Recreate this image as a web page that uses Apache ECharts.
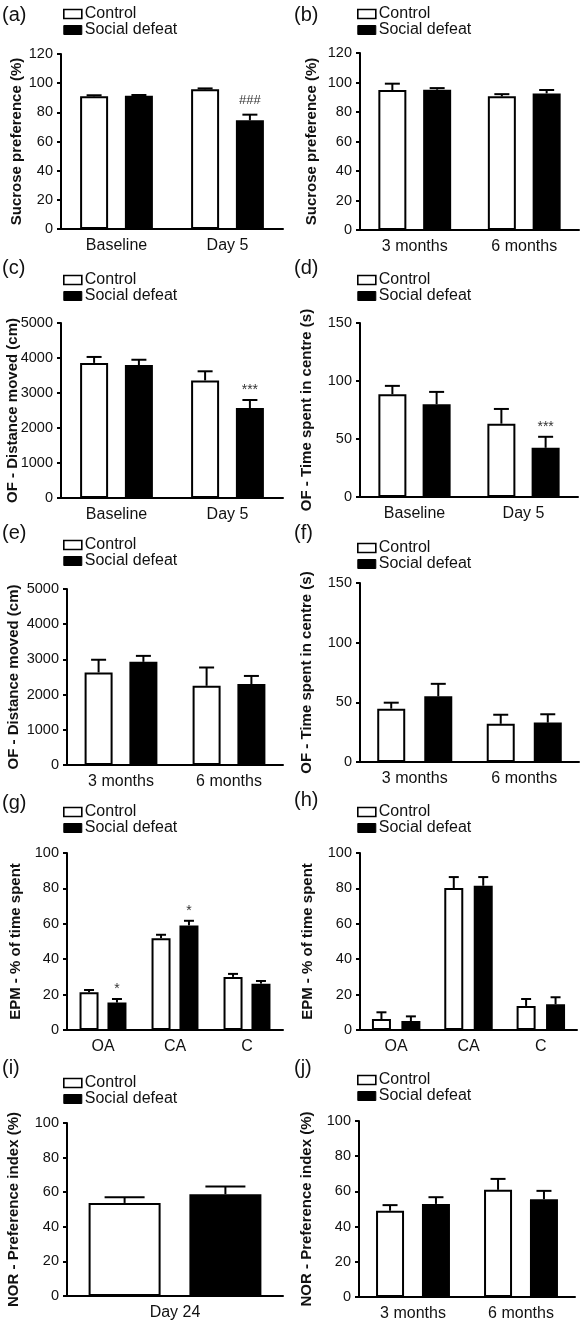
<!DOCTYPE html>
<html>
<head>
<meta charset="utf-8">
<script src="https://cdn.jsdelivr.net/npm/echarts@6/dist/echarts.min.js"></script>
<style>html,body{margin:0;padding:0;background:#fff}#c{width:583px;height:1324px}</style>
</head>
<body>
<div id="c"></div>
<script>
// ---------- data ----------
const seriesNames = ['Control', 'Social defeat'];
const catsBD = ['Baseline', 'Day 5'];
const catsMonths = ['3 months', '6 months'];
const catsEPM = ['OA', 'CA', 'C'];
const catsDay24 = ['Day 24'];

const aCtrl = [91.0, 95.8], aCtrlErr = [0.7, 0.6], aSD = [91.4, 74.5], aSDErr = [0.5, 3.9], aSig = ['', '###'];
const bCtrl = [94.9, 90.6], bCtrlErr = [4.3, 1.5], bSD = [95.1, 92.6], bSDErr = [1.1, 2.3], bSig = ['', ''];
const cCtrl = [3860, 3360], cCtrlErr = [170, 260], cSD = [3800, 2570], cSDErr = [150, 230], cSig = ['', '***'];
const dCtrl = [88.6, 63.2], dCtrlErr = [7.2, 12.7], dSD = [79.9, 42.4], dSDErr = [10.7, 9.5], dSig = ['', '***'];
const eCtrl = [2630, 2250], eCtrlErr = [360, 520], eSD = [2930, 2300], eSDErr = [170, 230], eSig = ['', ''];
const fCtrl = [44.7, 32.0], fCtrlErr = [5.0, 7.6], fSD = [55.0, 33.0], fSDErr = [10.5, 7.0], fSig = ['', ''];
const gCtrl = [21.3, 51.9, 30.0], gCtrlErr = [1.3, 1.9, 1.7], gSD = [15.5, 59.1, 26.2], gSDErr = [2.0, 2.6, 1.5], gSig = ['*', '*', ''];
const hCtrl = [6.2, 80.2, 13.6], hCtrlErr = [3.8, 6.2, 3.9], hSD = [5.1, 81.5, 14.5], hSDErr = [2.6, 4.9, 4.0], hSig = ['', '', ''];
const iCtrl = [53.8], iCtrlErr = [3.3], iSD = [58.8], iSDErr = [4.5], iSig = [''];
const jCtrl = [49.0, 60.9], jCtrlErr = [3.2, 6.2], jSD = [52.9, 55.6], jSDErr = [3.8, 4.7], jSig = ['', ''];

const yTitles = {
  sucrose: 'Sucrose preference (%)',
  dist: 'OF - Distance moved (cm)',
  time: 'OF - Time spent in centre (s)',
  epm: 'EPM - % of time spent',
  nor: 'NOR - Preference index (%)'
};
const panelLetters = ['(a)', '(b)', '(c)', '(d)', '(e)', '(f)', '(g)', '(h)', '(i)', '(j)'];

// ---------- layout (positions / styles) ----------
const FONT = 'Liberation Sans, Arial, sans-serif';
const panels = [
  {cats: catsBD, ctrl: aCtrl, ce: aCtrlErr, sd: aSD, se: aSDErr, sig: aSig, title: yTitles.sucrose, max: 120, step: 20,
   g: {left: 61, top: 54, width: 222, height: 175}, bw: 28, gap: 0.6, lg: [63, 6], lt: 5, ng: 37},
  {cats: catsMonths, ctrl: bCtrl, ce: bCtrlErr, sd: bSD, se: bSDErr, sig: bSig, title: yTitles.sucrose, max: 120, step: 20,
   g: {left: 360, top: 53, width: 219, height: 177}, bw: 28, gap: 0.6, lg: [357, 6], lt: 5, ng: 41},
  {cats: catsBD, ctrl: cCtrl, ce: cCtrlErr, sd: cSD, se: cSDErr, sig: cSig, title: yTitles.dist, max: 5000, step: 1000,
   g: {left: 61, top: 323, width: 222, height: 175}, bw: 28, gap: 0.6, lg: [63, 272], lt: 258, ng: 41},
  {cats: catsBD, ctrl: dCtrl, ce: dCtrlErr, sd: dSD, se: dSDErr, sig: dSig, title: yTitles.time, max: 150, step: 50,
   g: {left: 360, top: 323, width: 218, height: 174}, bw: 28, gap: 0.58, lg: [357, 272], lt: 258, ng: 46},
  {cats: catsMonths, ctrl: eCtrl, ce: eCtrlErr, sd: eSD, se: eSDErr, sig: eSig, title: yTitles.dist, max: 5000, step: 1000,
   g: {left: 67, top: 589, width: 216, height: 176}, bw: 28, gap: 0.6, lg: [63, 537], lt: 523, ng: 46},
  {cats: catsMonths, ctrl: fCtrl, ce: fCtrlErr, sd: fSD, se: fSDErr, sig: fSig, title: yTitles.time, max: 150, step: 50,
   g: {left: 360, top: 583, width: 219, height: 179}, bw: 28, gap: 0.68, lg: [357, 540], lt: 523, ng: 46},
  {cats: catsEPM, ctrl: gCtrl, ce: gCtrlErr, sd: gSD, se: gSDErr, sig: gSig, title: yTitles.epm, max: 100, step: 20,
   g: {left: 67, top: 853, width: 216, height: 177}, bw: 19, gap: 0.47, lg: [63, 804], lt: 793, ng: 44},
  {cats: catsEPM, ctrl: hCtrl, ce: hCtrlErr, sd: hSD, se: hSDErr, sig: hSig, title: yTitles.epm, max: 100, step: 20,
   g: {left: 360, top: 853, width: 217, height: 177}, bw: 19, gap: 0.55, lg: [357, 804], lt: 790, ng: 45},
  {cats: catsDay24, ctrl: iCtrl, ce: iCtrlErr, sd: iSD, se: iSDErr, sig: iSig, title: yTitles.nor, max: 100, step: 20,
   g: {left: 67, top: 1123, width: 216, height: 173}, bw: 72, gap: 0.4, lg: [63, 1075], lt: 1058, ng: 46},
  {cats: catsMonths, ctrl: jCtrl, ce: jCtrlErr, sd: jSD, se: jSDErr, sig: jSig, title: yTitles.nor, max: 100, step: 20,
   g: {left: 359, top: 1121, width: 216, height: 176}, bw: 28, gap: 0.64, lg: [357, 1072], lt: 1058, ng: 45}
];

const grid = [], xAxis = [], yAxis = [], series = [], legend = [], title = [];
panels.forEach((p, k) => {
  grid.push(Object.assign({containLabel: false}, p.g));
  title.push({text: panelLetters[k], left: k % 2 === 0 ? 2 : 294, top: p.lt, padding: 0,
    textStyle: {fontFamily: FONT, fontSize: 20, fontWeight: 'normal', color: '#111'}});
  xAxis.push({
    type: 'category', gridIndex: k, data: p.cats,
    axisLine: {lineStyle: {color: '#000', width: 2}},
    axisTick: {alignWithLabel: true, length: 5, lineStyle: {color: '#000', width: 2}},
    axisLabel: {fontFamily: FONT, fontSize: 16, color: '#111', margin: 9}
  });
  yAxis.push({
    type: 'value', gridIndex: k, min: 0, max: p.max, interval: p.step,
    name: p.title, nameLocation: 'middle', nameGap: p.ng, nameMoveOverlap: false,
    nameTextStyle: {fontFamily: FONT, fontSize: 15, fontWeight: 'bold', color: '#111'},
    axisLine: {show: true, lineStyle: {color: '#000', width: 2}},
    axisTick: {show: true, length: 4, lineStyle: {color: '#000', width: 2}},
    axisLabel: {fontFamily: FONT, fontSize: 14.5, color: '#111', margin: 8, formatter: v => String(v)},
    splitLine: {show: false}
  });
  legend.push({
    left: p.lg[0], top: p.lg[1], orient: 'vertical', padding: 0, itemGap: 0,
    itemWidth: 18, itemHeight: 9, icon: 'rect', selectedMode: false,
    textStyle: {fontFamily: FONT, fontSize: 16, color: '#111', lineHeight: 16, padding: [0, 0, 0, -2]},
    data: [
      {name: seriesNames[0], itemStyle: {color: '#fff', borderColor: '#000', borderWidth: 1.6}},
      {name: seriesNames[1], itemStyle: {color: '#000', borderColor: '#000', borderWidth: 1}}
    ]
  });
  series.push({
    type: 'bar', name: seriesNames[0], xAxisIndex: k, yAxisIndex: k, data: p.ctrl,
    barWidth: p.bw, barGap: (p.gap * 100) + '%',
    itemStyle: {color: '#fff', borderColor: '#000', borderWidth: 2}
  });
  series.push({
    type: 'bar', name: seriesNames[1], xAxisIndex: k, yAxisIndex: k, data: p.sd,
    barWidth: p.bw, barGap: (p.gap * 100) + '%',
    itemStyle: {color: '#000', borderColor: '#000', borderWidth: 2}
  });
  const errData = [];
  p.cats.forEach((c, i) => {
    errData.push([i, p.ctrl[i], p.ce[i], 0]);
    errData.push([i, p.sd[i], p.se[i], 1]);
  });
  const half = (p.bw + p.gap * p.bw) / 2;
  const cap = Math.round(p.bw * 0.55);
  series.push({
    type: 'custom', xAxisIndex: k, yAxisIndex: k, data: errData, clip: false, silent: true, z: 3,
    encode: {x: 0, y: 1},
    renderItem: function (params, api) {
      const i = api.value(0), v = api.value(1), e = api.value(2), s = api.value(3);
      const b = api.coord([i, v]), t = api.coord([i, v + e]);
      const x = b[0] + (s === 0 ? -half : half);
      const st = {stroke: '#000', lineWidth: 2};
      return {type: 'group', children: [
        {type: 'line', shape: {x1: x, y1: b[1], x2: x, y2: t[1]}, style: st},
        {type: 'line', shape: {x1: x - cap / 2, y1: t[1], x2: x + cap / 2, y2: t[1]}, style: st}
      ]};
    }
  });
  const sigData = [];
  p.cats.forEach((c, i) => { if (p.sig[i]) sigData.push([i, p.sd[i] + p.se[i], p.sig[i]]); });
  if (sigData.length) {
    series.push({
      type: 'custom', xAxisIndex: k, yAxisIndex: k, data: sigData, clip: false, silent: true, z: 4,
      encode: {x: 0, y: 1},
      renderItem: function (params, api) {
        const i = api.value(0), v = api.value(1);
        const txt = sigData[params.dataIndex][2];
        const t = api.coord([i, v]);
        const isHash = txt.indexOf('#') >= 0;
        return {type: 'text', x: t[0] + half, y: t[1] - (isHash ? 8 : 3),
          style: {text: txt, fontFamily: FONT, fontSize: isHash ? 13 : 14, fill: '#333',
            align: 'center', verticalAlign: 'bottom'}};
      }
    });
  }
});

const chart = echarts.init(document.getElementById('c'), null, {renderer: 'canvas'});
chart.setOption({animation: false, backgroundColor: '#fff', title, grid, xAxis, yAxis, legend, series});
</script>
</body>
</html>
